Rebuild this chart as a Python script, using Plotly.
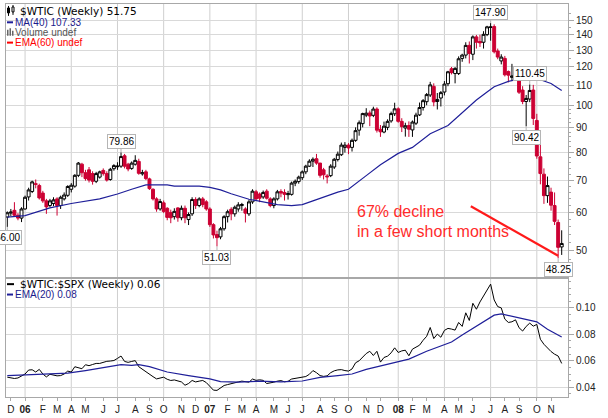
import math
import pandas as pd
import plotly.graph_objects as go

# ---------------- data ----------------
first_week = "2005-12-02"   # weekly bars, dated by Friday

opens = [58.7, 59.8, 60.6, 59.2, 58.4, 61.0, 64.6, 66.3, 68.8, 68.2,
         65.8, 63.4, 62.0, 62.6, 64.0, 62.0, 64.0, 65.1, 67.0, 68.0,
         71.6, 75.5, 72.5, 73.5, 72.2, 69.6, 71.0, 73.3, 72.2, 70.2,
         73.9, 74.6, 74.8, 78.6, 75.5, 74.0, 75.5, 76.5, 72.1, 72.8,
         70.4, 67.0, 64.0, 61.0, 62.8, 61.2, 60.0, 58.8, 61.3, 58.5,
         61.2, 58.0, 59.6, 63.8, 62.0, 64.0, 63.1, 61.0, 56.6, 54.0,
         53.4, 55.5, 58.8, 60.9, 59.6, 61.0, 62.0, 61.0, 59.6, 63.1,
         66.2, 65.5, 64.6, 66.4, 64.0, 62.0, 64.0, 66.3, 66.0, 65.3,
         65.4, 69.0, 69.5, 70.8, 72.8, 74.8, 76.6, 77.5, 75.9, 73.5,
         71.4, 71.5, 74.5, 77.2, 79.0, 81.8, 82.7, 81.8, 84.6, 88.8,
         91.6, 95.4, 96.4, 95.3, 98.2, 89.2, 88.0, 90.0, 92.8, 96.0,
         98.3, 92.6, 89.7, 90.8, 88.9, 91.8, 95.5, 98.9, 101.7, 105.0,
         109.4, 101.8, 103.5, 106.5, 110.8, 119.0, 116.3, 116.3, 125.0, 127.0,
         133.0, 127.5, 138.5, 135.5, 135.0, 140.0, 144.9, 145.5, 129.5, 123.5,
         125.0, 117.4, 114.2, 114.6, 113.5, 107.5, 101.8, 103.0, 107.5, 93.0,
         78.2, 72.0, 65.0, 66.1, 62.0, 57.2, 50.9]

highs = [60.3, 61.0, 63.0, 59.8, 61.5, 65.0, 67.5, 69.8, 70.2, 68.8,
         66.5, 64.0, 64.0, 64.5, 64.5, 65.0, 66.0, 68.3, 69.0, 72.0,
         76.3, 76.0, 73.5, 74.5, 73.0, 72.8, 73.2, 74.0, 73.0, 74.2,
         75.5, 76.2, 79.86, 79.3, 76.0, 76.5, 78.8, 77.5, 73.5, 73.5,
         70.8, 67.3, 64.5, 64.0, 63.5, 61.5, 60.8, 61.2, 61.5, 62.0,
         62.0, 60.0, 64.5, 64.5, 64.5, 64.6, 63.6, 61.5, 57.0, 55.0,
         56.0, 59.2, 60.8, 61.5, 62.0, 63.0, 62.8, 61.5, 63.8, 67.0,
         66.8, 66.0, 66.6, 67.0, 64.5, 64.5, 66.8, 67.0, 67.0, 66.5,
         69.5, 70.2, 71.5, 73.3, 75.3, 77.3, 78.0, 79.3, 76.0, 74.2,
         72.0, 75.5, 77.8, 80.2, 83.7, 83.9, 83.5, 85.3, 90.0, 93.0,
         96.5, 98.6, 97.5, 99.3, 99.0, 91.0, 92.5, 93.5, 97.0, 101.2,
         99.0, 94.0, 92.0, 92.6, 93.0, 96.5, 101.3, 103.0, 106.0, 111.8,
         111.0, 106.0, 107.0, 112.2, 117.8, 120.0, 119.9, 126.2, 127.8, 135.0,
         135.5, 139.5, 139.8, 139.9, 142.3, 146.0, 147.9, 147.0, 131.0, 127.5,
         126.5, 118.0, 121.8, 118.8, 116.0, 109.5, 105.0, 110.45, 110.2, 96.0,
         83.0, 74.0, 71.2, 67.5, 66.0, 58.0, 55.1]

lows = [56.0, 59.0, 58.8, 57.8, 57.3, 60.8, 63.5, 65.8, 67.3, 63.8,
        62.8, 59.6, 61.5, 61.8, 59.1, 61.0, 63.5, 64.6, 66.0, 67.5,
        71.0, 71.0, 69.8, 69.2, 68.5, 69.0, 70.5, 71.5, 69.5, 69.8,
        73.2, 73.5, 74.2, 74.0, 73.0, 73.5, 75.0, 71.8, 71.5, 70.0,
        66.8, 63.5, 60.2, 60.5, 59.8, 57.8, 57.0, 58.0, 57.4, 57.8,
        57.0, 56.5, 59.0, 61.0, 61.5, 61.5, 60.5, 56.0, 53.0, 51.03,
        52.8, 55.0, 57.2, 57.8, 58.8, 60.2, 60.5, 57.2, 59.0, 62.5,
        63.5, 63.0, 64.0, 63.8, 61.5, 61.2, 63.5, 64.5, 63.5, 63.8,
        65.0, 68.0, 68.8, 70.0, 72.0, 74.5, 74.5, 75.3, 70.8, 70.2,
        68.9, 71.0, 73.8, 76.5, 78.5, 79.8, 79.2, 80.2, 84.0, 86.5,
        90.0, 94.5, 90.5, 94.5, 87.8, 86.0, 87.5, 88.8, 92.0, 95.0,
        92.0, 88.0, 86.1, 86.0, 86.0, 91.0, 95.0, 97.5, 100.0, 104.0,
        99.5, 98.0, 99.4, 104.8, 109.5, 115.8, 111.0, 115.5, 123.0, 125.0,
        122.0, 124.0, 131.0, 132.0, 131.0, 139.0, 136.0, 128.0, 124.5, 121.5,
        114.7, 111.5, 112.2, 113.0, 105.5, 100.5, 90.42, 101.5, 91.0, 77.5,
        68.6, 62.5, 62.8, 60.5, 56.5, 48.25, 49.0]

closes = [59.9, 60.1, 59.2, 58.4, 61.0, 64.5, 66.8, 69.4, 68.6, 64.3,
          63.4, 61.6, 63.4, 63.7, 62.0, 64.5, 65.2, 67.9, 68.3, 71.6,
          75.9, 72.5, 70.5, 70.0, 69.6, 72.2, 72.8, 72.2, 70.0, 73.7,
          75.0, 74.8, 78.3, 74.8, 73.8, 75.9, 76.9, 72.3, 72.5, 70.5,
          67.2, 64.0, 61.0, 63.2, 60.3, 58.6, 58.5, 60.3, 58.5, 61.2,
          58.5, 59.4, 63.8, 62.0, 64.0, 62.3, 61.0, 56.6, 53.9, 53.2,
          55.5, 58.8, 60.2, 59.6, 61.5, 62.2, 62.3, 59.8, 63.1, 66.4,
          64.0, 64.2, 66.0, 64.2, 62.0, 64.0, 66.2, 65.8, 65.4, 65.6,
          69.0, 69.6, 71.0, 72.8, 74.8, 76.6, 77.3, 75.9, 71.6, 71.8,
          71.1, 74.8, 77.3, 79.2, 82.7, 82.7, 81.6, 84.6, 88.6, 92.0,
          96.1, 96.3, 95.0, 98.2, 88.8, 88.1, 90.5, 92.6, 96.1, 98.3,
          92.6, 90.3, 90.7, 89.2, 92.3, 95.4, 98.9, 102.2, 105.2, 110.2,
          101.6, 102.8, 106.2, 110.6, 117.3, 116.8, 119.2, 124.8, 127.0, 133.0,
          128.0, 138.5, 135.0, 134.6, 140.2, 145.3, 145.2, 129.0, 125.8, 125.8,
          115.6, 115.4, 115.0, 115.2, 106.4, 101.8, 103.3, 107.3, 93.9, 78.5,
          72.2, 65.0, 68.2, 62.1, 57.5, 50.8, 51.75]

# $WTIC:$SPX ratio, one value per weekly bar
ratio = [0.0476, 0.0472, 0.0466, 0.0470, 0.0488, 0.0500, 0.0530, 0.0532, 0.0515, 0.0535,
         0.0500, 0.0478, 0.0498, 0.0490, 0.0486, 0.0488, 0.0500, 0.0522, 0.0515, 0.0555,
         0.0548, 0.0540, 0.0570, 0.0563, 0.0572, 0.0580, 0.0580, 0.0590, 0.0596, 0.0598,
         0.0602, 0.0618, 0.0636, 0.0595, 0.0588, 0.0595, 0.0601, 0.0555, 0.0535, 0.0515,
         0.0500, 0.0480, 0.0463, 0.0472, 0.0476, 0.0460, 0.0451, 0.0455, 0.0448, 0.0440,
         0.0415, 0.0428, 0.0451, 0.0440, 0.0446, 0.0451, 0.0435, 0.0410, 0.0378, 0.0376,
         0.0392, 0.0413, 0.0420, 0.0425, 0.0433, 0.0440, 0.0446, 0.0440, 0.0438, 0.0462,
         0.0452, 0.0456, 0.0452, 0.0428, 0.0432, 0.0438, 0.0446, 0.0450, 0.0441, 0.0445,
         0.0462, 0.0467, 0.0472, 0.0477, 0.0481, 0.0498, 0.0526, 0.0510, 0.0488, 0.0482,
         0.0486, 0.0510, 0.0524, 0.0531, 0.0533, 0.0526, 0.0522, 0.0538, 0.0585, 0.0600,
         0.0630, 0.0655, 0.0672, 0.0640, 0.0672, 0.0590, 0.0625, 0.0635, 0.0660, 0.0698,
         0.0663, 0.0675, 0.0680, 0.0638, 0.0688, 0.0702, 0.0718, 0.0755, 0.0785, 0.0852,
         0.0768, 0.0802, 0.0778, 0.0830, 0.0845, 0.0840, 0.0832, 0.0890, 0.0860, 0.0963,
         0.0905, 0.1035, 0.0990, 0.1045, 0.1090, 0.1135, 0.1180, 0.1060, 0.1010, 0.1000,
         0.0915, 0.0890, 0.0895, 0.0910, 0.0850, 0.0825, 0.0860, 0.0885, 0.0862, 0.0875,
         0.0763, 0.0725, 0.0695, 0.0670, 0.0650, 0.0636, 0.0580]

# MA(40) of price, read at selected bars (bar index, value)
ma40_idx = [0, 5, 12, 18, 26, 31, 35, 39, 45, 47, 54, 57, 60, 63, 68, 72, 76, 80, 83, 86,
            88, 93, 96, 99, 101, 105, 110, 114, 119, 124, 128, 132, 135, 137, 141, 144,
            148, 150, 153, 156]
ma40_vals = [58.7, 59.1, 61.3, 62.6, 64.0, 65.5, 67.0, 68.4, 68.4, 68.0, 68.0, 67.6, 66.8,
             65.6, 63.9, 63.0, 62.3, 62.0, 62.3, 63.4, 64.2, 66.1, 67.0, 69.5, 71.5, 75.3,
             79.5, 81.8, 87.3, 90.8, 96.5, 102.5, 106.5, 109.2, 112.0, 113.3, 113.7, 112.9,
             110.9, 107.33]

# EMA(20) of the ratio, read at selected bars
ema20_idx = [0, 7, 17, 22, 26, 32, 35, 37, 40, 45, 51, 57, 60, 65, 71, 77, 83, 88, 93, 97,
             101, 107, 113, 118, 122, 125, 128, 132, 135, 137, 139, 142, 146, 149, 152, 156]
ema20_vals = [0.0488, 0.0496, 0.0506, 0.0526, 0.0545, 0.0571, 0.0566, 0.0571, 0.0556, 0.0515,
              0.0488, 0.0463, 0.0443, 0.0438, 0.0446, 0.0440, 0.0447, 0.0474, 0.0488, 0.0500,
              0.0535, 0.0575, 0.0613, 0.0672, 0.0713, 0.0742, 0.0795, 0.0863, 0.0915, 0.0945,
              0.0955, 0.0938, 0.0913, 0.0895, 0.0838, 0.0780]

# price call-outs (bar index, value, side)
callout_idx = [0, 32, 59, 136, 147, 146, 155]
callout_val = [56.00, 79.86, 51.03, 147.90, 110.45, 90.42, 48.25]
callout_side = ["low", "high", "low", "high", "high", "low", "low"]

month_labels = ["D", "06", "F", "M", "A", "M", "J", "J", "A", "S", "O", "N",
                "D", "07", "F", "M", "A", "M", "J", "J", "A", "S", "O", "N",
                "D", "08", "F", "M", "A", "M", "J", "J", "A", "S", "O", "N"]
price_ticks = [50, 60, 70, 80, 90, 100, 110, 120, 130, 140, 150]
ratio_ticks = [0.04, 0.06, 0.08, 0.10]

decline_x = ["2008-06-02", "2008-11-21"]
decline_y = [61.8, 48.8]

legend_top = ["$WTIC (Weekly) 51.75", "MA(40) 107.33", "Volume undef", "EMA(60) undef"]
legend_low = ["$WTIC:$SPX (Weekly) 0.06", "EMA(20) 0.08"]
note_lines = ["67% decline", "in a few short months"]

# ---------------- layout helpers ----------------
W, H = 608, 418
ML, MR, MT, MB = 6, 40, 3, 18
PW, PH = W - ML - MR, H - MT - MB


def px(x):
    return (x - ML) / PW


def py(y):
    return (H - MB - y) / PH


split = py(279.3)
NAVY = "#1f1f99"
RED = "#cc0033"
GRID = "#d9d9d9"
FRAME = "#a8a8a8"

dates = pd.date_range(first_week, periods=len(closes), freq="7D")
day_px = 3.554 / 7.0
xr = [dates[0] - pd.Timedelta(days=1.3 / day_px), dates[-1] + pd.Timedelta(days=6.3 / day_px)]

# month boundaries (week whose Monday falls in a new month)
mondays = dates - pd.Timedelta(days=4)
tick_x, quarter_x = [], []
for i in range(1, len(dates)):
    if mondays[i].month != mondays[i - 1].month:
        tick_x.append(dates[i])
        if mondays[i].month in (1, 4, 7, 10):
            quarter_x.append(dates[i])
tick_text = ["<b>%s</b>" % t if t.isdigit() else t for t in month_labels[:len(tick_x)]]

fig = go.Figure()
fig.add_trace(go.Candlestick(
    x=dates, open=opens, high=highs, low=lows, close=closes,
    increasing=dict(line=dict(color="black", width=1), fillcolor="white"),
    decreasing=dict(line=dict(color=RED, width=1), fillcolor=RED),
    whiskerwidth=0, xaxis="x", yaxis="y", hoverinfo="skip"))
fig.add_trace(go.Scatter(x=dates[ma40_idx], y=ma40_vals, mode="lines",
                         line=dict(color=NAVY, width=1.2), xaxis="x", yaxis="y", hoverinfo="skip"))
fig.add_trace(go.Scatter(x=decline_x, y=decline_y, mode="lines",
                         line=dict(color="#ff1a1a", width=2.2), xaxis="x", yaxis="y", hoverinfo="skip"))
fig.add_trace(go.Scatter(x=dates, y=ratio, mode="lines",
                         line=dict(color="black", width=1), xaxis="x2", yaxis="y2", hoverinfo="skip"))
fig.add_trace(go.Scatter(x=dates[ema20_idx], y=ema20_vals, mode="lines",
                         line=dict(color=NAVY, width=1.2), xaxis="x2", yaxis="y2", hoverinfo="skip"))

tickfont = dict(family="Liberation Sans, Arial, sans-serif", size=10, color="#222222")
fig.update_layout(
    width=W, height=H, margin=dict(l=ML, r=MR, t=MT, b=MB),
    paper_bgcolor="white", plot_bgcolor="white", showlegend=False, hovermode=False,
    boxgap=0.18, boxgroupgap=0,
    xaxis=dict(domain=[0, 1], anchor="y", type="date", range=xr, showticklabels=False,
               showgrid=False, zeroline=False, rangeslider=dict(visible=False),
               showline=True, mirror=True, linecolor=FRAME, linewidth=1, ticks=""),
    xaxis2=dict(domain=[0, 1], anchor="y2", type="date", range=xr, matches="x",
                tickmode="array", tickvals=tick_x, ticktext=tick_text,
                ticks="outside", ticklen=3, tickcolor=FRAME, tickfont=tickfont,
                showgrid=False, zeroline=False, showline=True, mirror=True,
                linecolor=FRAME, linewidth=1),
    yaxis=dict(domain=[split, 1], anchor="x", type="log",
               range=[math.log10(44.0), math.log10(162.0)], side="right",
               tickmode="array", tickvals=price_ticks, ticktext=[str(v) for v in price_ticks],
               showgrid=True, gridcolor=GRID, gridwidth=1, zeroline=False,
               ticks="outside", ticklen=5, tickcolor=FRAME, tickfont=tickfont,
               showline=True, mirror=True, linecolor=FRAME, linewidth=1,
               minor=dict(tickvals=list(range(46, 100, 2)) + list(range(105, 160, 5)),
                          ticks="outside", ticklen=2, tickcolor=FRAME, showgrid=False)),
    yaxis2=dict(domain=[0, split], anchor="x2", range=[0.0326, 0.1230], side="right",
                tickmode="array", tickvals=ratio_ticks, ticktext=["%.2f" % v for v in ratio_ticks],
                showgrid=True, gridcolor=GRID, gridwidth=1, zeroline=False,
                ticks="outside", ticklen=5, tickcolor=FRAME, tickfont=tickfont,
                showline=True, mirror=True, linecolor=FRAME, linewidth=1,
                minor=dict(dtick=0.005, ticks="outside", ticklen=2, tickcolor=FRAME, showgrid=False)),
)

shapes = []
for qx in quarter_x:
    shapes.append(dict(type="line", xref="x", yref="paper", x0=qx, x1=qx, y0=0, y1=1,
                       line=dict(color="#cfcfcf", width=1), layer="below"))


def pshape(kind, x0, y0, x1, y1, color, width=1, fill=None):
    d = dict(type=kind, xref="paper", yref="paper", x0=px(x0), x1=px(x1), y0=py(y0), y1=py(y1),
             line=dict(color=color, width=width))
    if fill:
        d["fillcolor"] = fill
    return d


# legend glyphs
shapes += [
    pshape("line", 8.5, 5, 8.5, 15, "black"),
    pshape("rect", 7.5, 7, 9.5, 12, "black", 1, "black"),
    pshape("line", 13, 4, 13, 14, "black"),
    pshape("rect", 12, 6, 14, 11, "black", 1, "white"),
    pshape("line", 7, 21.5, 13, 21.5, NAVY, 2),
    pshape("rect", 7, 29, 8.5, 35, "#666666", 0, "#666666"),
    pshape("rect", 9.5, 27.5, 11, 35, "#666666", 0, "#666666"),
    pshape("rect", 12, 30, 13.5, 35, "#666666", 0, "#666666"),
    pshape("line", 7, 42, 13, 42, "#ff0000", 2),
    pshape("line", 7, 286, 14, 286, "black", 2),
    pshape("line", 7, 296.5, 13, 296.5, NAVY, 2),
]
fig.update_layout(shapes=shapes)

ann = []


def ptext(text, x, y, color, family, size):
    return dict(text=text, xref="paper", yref="paper", x=px(x), y=py(y), xanchor="left",
                yanchor="middle", showarrow=False, borderpad=0,
                font=dict(color=color, family=family, size=size))


ann.append(ptext(legend_top[0], 19, 10, "black", "DejaVu Sans, Verdana, sans-serif", 10.5))
ann.append(ptext(legend_top[1], 13.5, 21.5, "#1a1a8c", "Liberation Sans, Arial, sans-serif", 10))
ann.append(ptext(legend_top[2], 13.5, 32, "#555555", "Liberation Sans, Arial, sans-serif", 10))
ann.append(ptext(legend_top[3], 13.5, 42, "#ff0000", "Liberation Sans, Arial, sans-serif", 10))
ann.append(ptext(legend_low[0], 19, 286, "black", "DejaVu Sans, Verdana, sans-serif", 10.5))
ann.append(ptext(legend_low[1], 13.5, 296.5, "#1a1a8c", "Liberation Sans, Arial, sans-serif", 10))
ann.append(ptext(note_lines[0], 356, 213, "#ff2b2b", "Liberation Sans, Arial, sans-serif", 16))
ann.append(ptext(note_lines[1], 356, 233, "#ff2b2b", "Liberation Sans, Arial, sans-serif", 16))

for i, v, side in zip(callout_idx, callout_val, callout_side):
    ann.append(dict(text="%.2f" % v, xref="x", yref="y", x=dates[i], y=math.log10(v),
                    showarrow=True, arrowhead=0, arrowwidth=1, arrowcolor="#b5b5b5",
                    ax=0, ay=(-11 if side == "high" else 11),
                    bordercolor="#b5b5b5", borderwidth=1, borderpad=1, bgcolor="white",
                    font=dict(family="Liberation Sans, Arial, sans-serif", size=10, color="black")))

fig.update_layout(annotations=ann)
fig.write_html("out.html")
